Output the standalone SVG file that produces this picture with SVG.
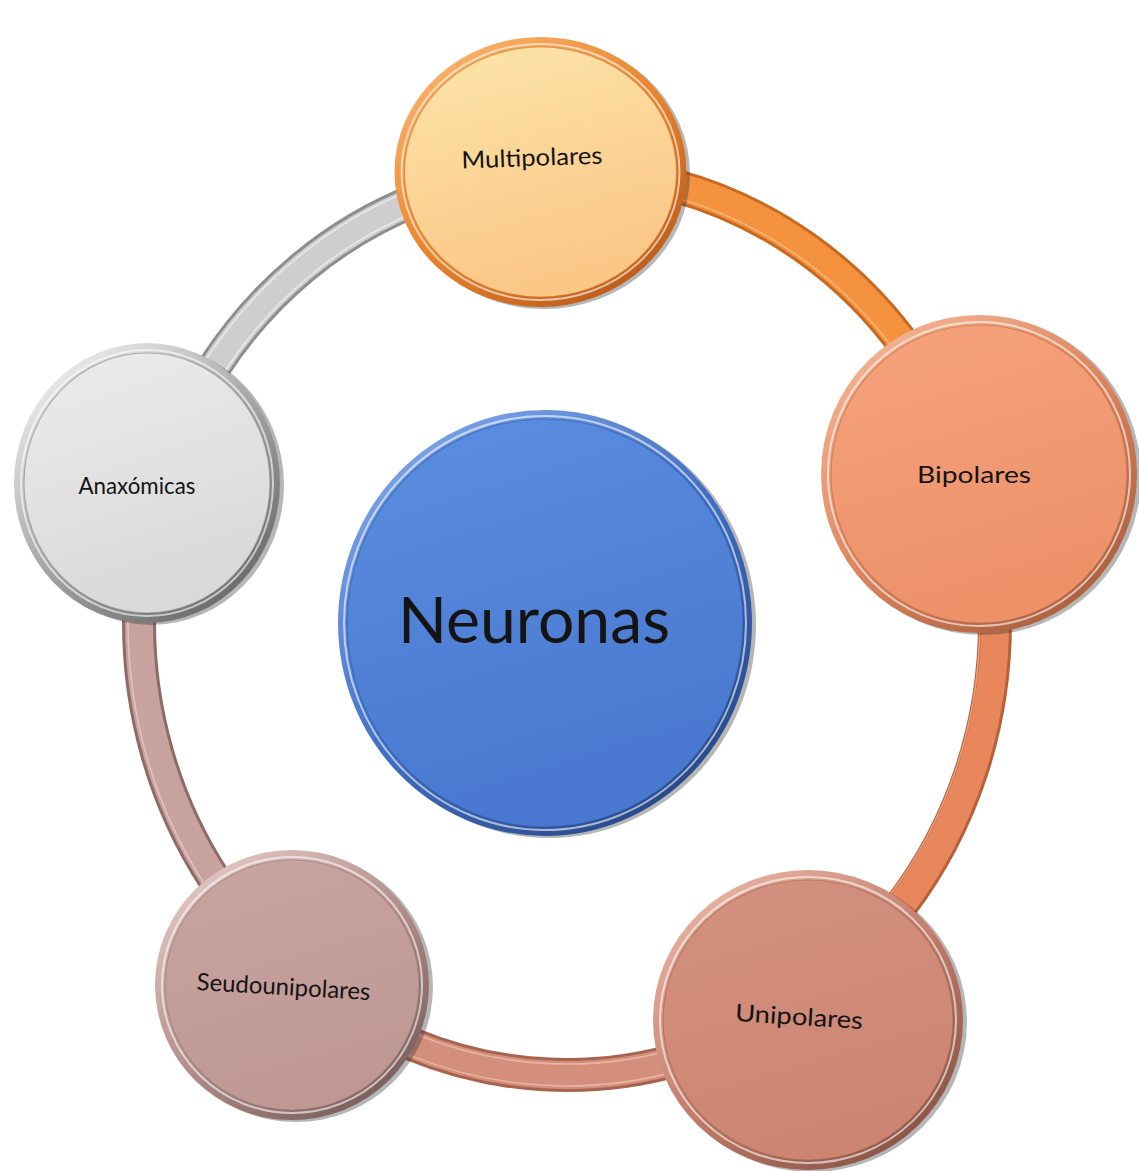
<svg xmlns="http://www.w3.org/2000/svg" width="1139" height="1171" viewBox="0 0 1139 1171">
  <defs>
    <!-- rim (bevel) gradients: light upper-left, dark lower-right -->
    <linearGradient id="rimOrange" x1="0.15" y1="0.05" x2="0.85" y2="0.95">
      <stop offset="0" stop-color="#f9b36a"/>
      <stop offset="0.5" stop-color="#e9842c"/>
      <stop offset="1" stop-color="#b85a1a"/>
    </linearGradient>
    <linearGradient id="rimSalmon" x1="0.15" y1="0.05" x2="0.85" y2="0.95">
      <stop offset="0" stop-color="#f4b594"/>
      <stop offset="0.5" stop-color="#dc855e"/>
      <stop offset="1" stop-color="#a85c3c"/>
    </linearGradient>
    <linearGradient id="rimRose" x1="0.15" y1="0.05" x2="0.85" y2="0.95">
      <stop offset="0" stop-color="#e8b3a4"/>
      <stop offset="0.5" stop-color="#c47e6c"/>
      <stop offset="1" stop-color="#855144"/>
    </linearGradient>
    <linearGradient id="rimMauve" x1="0.15" y1="0.05" x2="0.85" y2="0.95">
      <stop offset="0" stop-color="#e2c8c5"/>
      <stop offset="0.5" stop-color="#b48f8b"/>
      <stop offset="1" stop-color="#755b58"/>
    </linearGradient>
    <linearGradient id="rimGray" x1="0.15" y1="0.05" x2="0.85" y2="0.95">
      <stop offset="0" stop-color="#eeeeee"/>
      <stop offset="0.5" stop-color="#a6a6a6"/>
      <stop offset="1" stop-color="#666666"/>
    </linearGradient>
    <linearGradient id="rimBlue" x1="0.15" y1="0.05" x2="0.85" y2="0.95">
      <stop offset="0" stop-color="#7fa5ea"/>
      <stop offset="0.5" stop-color="#416fc4"/>
      <stop offset="1" stop-color="#264684"/>
    </linearGradient>

    <!-- face gradients -->
    <linearGradient id="faceOrange" x1="0" y1="0" x2="0.3" y2="1">
      <stop offset="0" stop-color="#fde5aa"/>
      <stop offset="1" stop-color="#fac787"/>
    </linearGradient>
    <linearGradient id="faceSalmon" x1="0" y1="0" x2="0.3" y2="1">
      <stop offset="0" stop-color="#f5a37d"/>
      <stop offset="1" stop-color="#ed9169"/>
    </linearGradient>
    <linearGradient id="faceRose" x1="0" y1="0" x2="0.3" y2="1">
      <stop offset="0" stop-color="#d49180"/>
      <stop offset="1" stop-color="#cc8573"/>
    </linearGradient>
    <linearGradient id="faceMauve" x1="0" y1="0" x2="0.3" y2="1">
      <stop offset="0" stop-color="#c8a5a1"/>
      <stop offset="1" stop-color="#bf9894"/>
    </linearGradient>
    <linearGradient id="faceGray" x1="0" y1="0" x2="0.3" y2="1">
      <stop offset="0" stop-color="#ececec"/>
      <stop offset="1" stop-color="#d9d9d9"/>
    </linearGradient>
    <linearGradient id="faceBlue" x1="0" y1="0" x2="0.3" y2="1">
      <stop offset="0" stop-color="#5b8ee0"/>
      <stop offset="1" stop-color="#4a78d0"/>
    </linearGradient>

    <style>
      .edge { fill: #2e2e2e; fill-opacity: 0.35; }
      .shine { fill: none; stroke: #ffffff; stroke-opacity: 0.6; stroke-width: 2; }
      .face-line { stroke-width: 1.2; stroke-opacity: 0.6; }
      .label { font-family: Lato, "Open Sans", "Liberation Sans", sans-serif; fill: #141414; text-anchor: middle; }
      .small { font-size: 24px; }
      .big { font-size: 64px; }
      .band-edge { fill: none; stroke-width: 34; }
      .band { fill: none; stroke-width: 28; }
      .band-hi { fill: none; stroke-width: 1.6; stroke-opacity: 0.75; }
    </style>
  </defs>

  <rect width="1139" height="1171" fill="#ffffff"/>

  <!-- ring of connectors, one arc per neighbouring pair -->
  <g id="connectors">
    <!-- Multipolares -> Bipolares -->
    <g>
      <path class="band-edge" stroke="#c9691f" d="M540.1 171.9 A428 452 0 0 1 971.9 476.6"/>
      <path class="band" stroke="#f4923f" d="M540.1 171.9 A428 452 0 0 1 971.9 476.6"/>
      <path class="band-hi" stroke="#fbc08a" d="M540.8 182.9 A417 441 0 0 1 961.5 480.2"/>
    </g>
    <!-- Bipolares -> Unipolares -->
    <g>
      <path class="band-edge" stroke="#b9603b" stroke-width="42" d="M971.9 476.6 A428 452 0 0 1 798.2 1003.4"/>
      <path class="band" stroke="#e8865c" stroke-width="36" d="M971.9 476.6 A428 452 0 0 1 798.2 1003.4"/>
      <path class="band-hi" stroke="#f6b698" d="M957.5 481.5 A413 437 0 0 1 789.9 990.8"/>
    </g>
    <!-- Unipolares -> Seudounipolares -->
    <g>
      <path class="band-edge" stroke="#a8634f" stroke-width="36" d="M798.2 1003.4 A428 452 0 0 1 298.8 975.2"/>
      <path class="band" stroke="#d38f7c" stroke-width="30" d="M798.2 1003.4 A428 452 0 0 1 298.8 975.2"/>
      <path class="band-hi" stroke="#f0c0b2" d="M792.3 994.1 A417 441 0 0 1 305.7 966.7"/>
      <path class="band-hi" stroke="#f0c0b2" d="M804.1 1012.6 A439 463 0 0 1 291.9 983.8"/>
    </g>
    <!-- Seudounipolares -> Anaxomicas -->
    <g>
      <path class="band-edge" stroke="#8f6b67" d="M298.8 975.2 A428 452 0 0 1 158.8 487.1"/>
      <path class="band" stroke="#c8a29e" d="M298.8 975.2 A428 452 0 0 1 158.8 487.1"/>
      <path class="band-hi" stroke="#e6cfcc" d="M291.9 983.8 A439 463 0 0 1 148.3 483.8"/>
    </g>
    <!-- Anaxomicas -> Multipolares -->
    <g>
      <path class="band-edge" stroke="#8e8e8e" d="M158.8 487.1 A428 452 0 0 1 540.1 171.9"/>
      <path class="band" stroke="#cecece" d="M158.8 487.1 A428 452 0 0 1 540.1 171.9"/>
      <path class="band-hi" stroke="#f2f2f2" d="M148.3 483.8 A439 463 0 0 1 539.4 160.9"/>
      <path class="band-hi" stroke="#f2f2f2" d="M169.3 490.4 A417 441 0 0 1 540.8 182.9"/>
    </g>
  </g>

  <!-- centre node -->
  <g id="node-neuronas">
    <ellipse class="edge" cx="549" cy="625" rx="207" ry="213"/>
    <ellipse cx="545" cy="623" rx="207" ry="213" fill="url(#rimBlue)"/>
    <ellipse class="shine" cx="545" cy="623" rx="201" ry="207"/>
    <ellipse cx="545" cy="623" rx="198" ry="204" fill="url(#faceBlue)" stroke="#2f5aa8" class="face-line"/>
    <text class="label big" x="534" y="643" textLength="272" lengthAdjust="spacingAndGlyphs">Neuronas</text>
  </g>

  <g id="node-multipolares">
    <ellipse class="edge" cx="544" cy="174" rx="146" ry="135"/>
    <ellipse cx="540.5" cy="172" rx="146" ry="135" fill="url(#rimOrange)"/>
    <ellipse class="shine" cx="540.5" cy="172" rx="139" ry="128"/>
    <ellipse cx="540.5" cy="172" rx="136" ry="125" fill="url(#faceOrange)" stroke="#d9782a" class="face-line"/>
    <text class="label small" x="532" y="166" textLength="141" lengthAdjust="spacingAndGlyphs" transform="rotate(-2 532 160)">Multipolares</text>
  </g>

  <g id="node-bipolares">
    <ellipse class="edge" cx="983" cy="476" rx="158" ry="159"/>
    <ellipse cx="979" cy="474" rx="158" ry="159" fill="url(#rimSalmon)"/>
    <ellipse class="shine" cx="979" cy="474" rx="151" ry="152"/>
    <ellipse cx="979" cy="474" rx="148" ry="149" fill="url(#faceSalmon)" stroke="#c06a45" class="face-line"/>
    <text class="label small" x="974" y="483" textLength="114" lengthAdjust="spacingAndGlyphs">Bipolares</text>
  </g>

  <g id="node-unipolares">
    <ellipse class="edge" cx="812" cy="1022" rx="155" ry="150"/>
    <ellipse cx="808" cy="1020" rx="155" ry="150" fill="url(#rimRose)"/>
    <ellipse class="shine" cx="808" cy="1020" rx="148" ry="143"/>
    <ellipse cx="808" cy="1020" rx="145" ry="140" fill="url(#faceRose)" stroke="#a86552" class="face-line"/>
    <text class="label small" x="799" y="1025" textLength="128" lengthAdjust="spacingAndGlyphs" transform="rotate(3.6 799 1018)">Unipolares</text>
  </g>

  <g id="node-seudounipolares">
    <ellipse class="edge" cx="296" cy="987" rx="137" ry="135"/>
    <ellipse cx="292" cy="985" rx="137" ry="135" fill="url(#rimMauve)"/>
    <ellipse class="shine" cx="292" cy="985" rx="130" ry="128"/>
    <ellipse cx="292" cy="985" rx="127" ry="125" fill="url(#faceMauve)" stroke="#9a7874" class="face-line"/>
    <text class="label small" x="283.5" y="995" textLength="174" lengthAdjust="spacingAndGlyphs" transform="rotate(3.3 283.5 988)">Seudounipolares</text>
  </g>

  <g id="node-anaxomicas">
    <ellipse class="edge" cx="151" cy="485" rx="133" ry="140"/>
    <ellipse cx="147" cy="483" rx="133" ry="140" fill="url(#rimGray)"/>
    <ellipse class="shine" cx="147" cy="483" rx="126" ry="133"/>
    <ellipse cx="147" cy="483" rx="123" ry="130" fill="url(#faceGray)" stroke="#8a8a8a" class="face-line"/>
    <text class="label small" x="137" y="494" textLength="117" lengthAdjust="spacingAndGlyphs">Anaxómicas</text>
  </g>
</svg>
